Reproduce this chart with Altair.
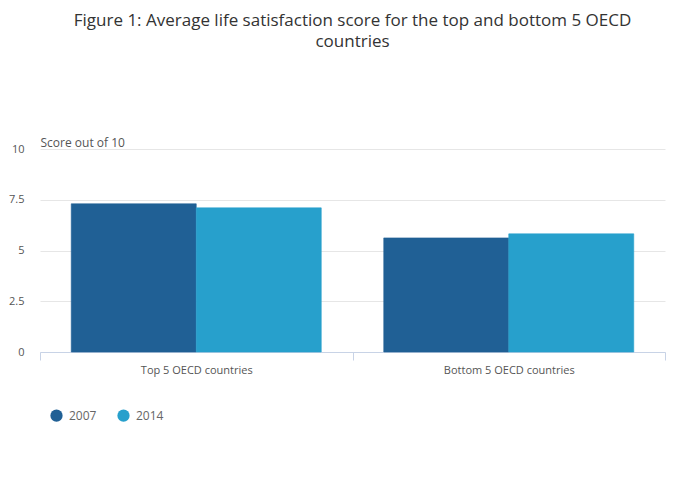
import altair as alt
import pandas as pd

groups = ["Top 5 OECD countries", "Top 5 OECD countries", "Bottom 5 OECD countries", "Bottom 5 OECD countries"]
years = ["2007", "2014", "2007", "2014"]
scores = [7.30, 7.10, 5.62, 5.82]

df = pd.DataFrame({"group": groups, "year": years, "score": scores})

font = "Open Sans"
year_scale = alt.Scale(domain=["2007", "2014"], range=["#206095", "#27a0cc"])

chart = alt.Chart(df).mark_bar(strokeWidth=0.6).encode(
    x=alt.X("group:N", sort=["Top 5 OECD countries", "Bottom 5 OECD countries"],
            scale=alt.Scale(paddingInner=0, paddingOuter=0),
            axis=alt.Axis(title=None, labelAngle=0, tickBand="extent", domainColor="#c8d3e6",
                          tickColor="#c8d3e6", tickSize=8, labelColor="#555555", labelFontSize=11,
                          labelFont=font, labelPadding=4, grid=False)),
    xOffset=alt.XOffset("year:N", scale=alt.Scale(paddingInner=0, paddingOuter=0.25)),
    y=alt.Y("score:Q", scale=alt.Scale(domain=[0, 10]),
            axis=alt.Axis(values=[0, 2.5, 5, 7.5, 10], format=".1~f", title="Score out of 10", titleAngle=0,
                          titleAlign="left", titleBaseline="bottom", titleX=0, titleY=0,
                          titleFont=font, titleFontSize=12, titleFontWeight="normal",
                          titleColor="#555555", labelColor="#555555", labelFont=font,
                          labelFontSize=11, labelPadding=16, domain=False, ticks=False,
                          gridColor="#e6e6e6")),
    color=alt.Color("year:N", scale=year_scale,
                    legend=alt.Legend(title=None, orient="none", legendX=10, legendY=260,
                                      direction="horizontal", symbolType="circle", symbolSize=150,
                                      symbolOpacity=1, symbolStrokeWidth=0, labelFont=font, labelFontSize=12,
                                      labelColor="#666666", columnPadding=20, labelOffset=6)),
    stroke=alt.Stroke("year:N", scale=year_scale, legend=None),
).properties(
    width=625,
    height=203,
    title=alt.TitleParams(
        text=["Figure 1: Average life satisfaction score for the top and bottom 5 OECD", "countries"],
        font=font, fontSize=17, fontWeight="normal", color="#333333", anchor="middle",
        offset=85, lineHeight=21,
    ),
    padding={"left": 32, "top": 141, "right": 19, "bottom": 130},
    autosize=alt.AutoSizeParams(type="none"),
).configure_view(stroke=None)

chart.save("out.html", embed_options={"renderer": "svg", "actions": False})
